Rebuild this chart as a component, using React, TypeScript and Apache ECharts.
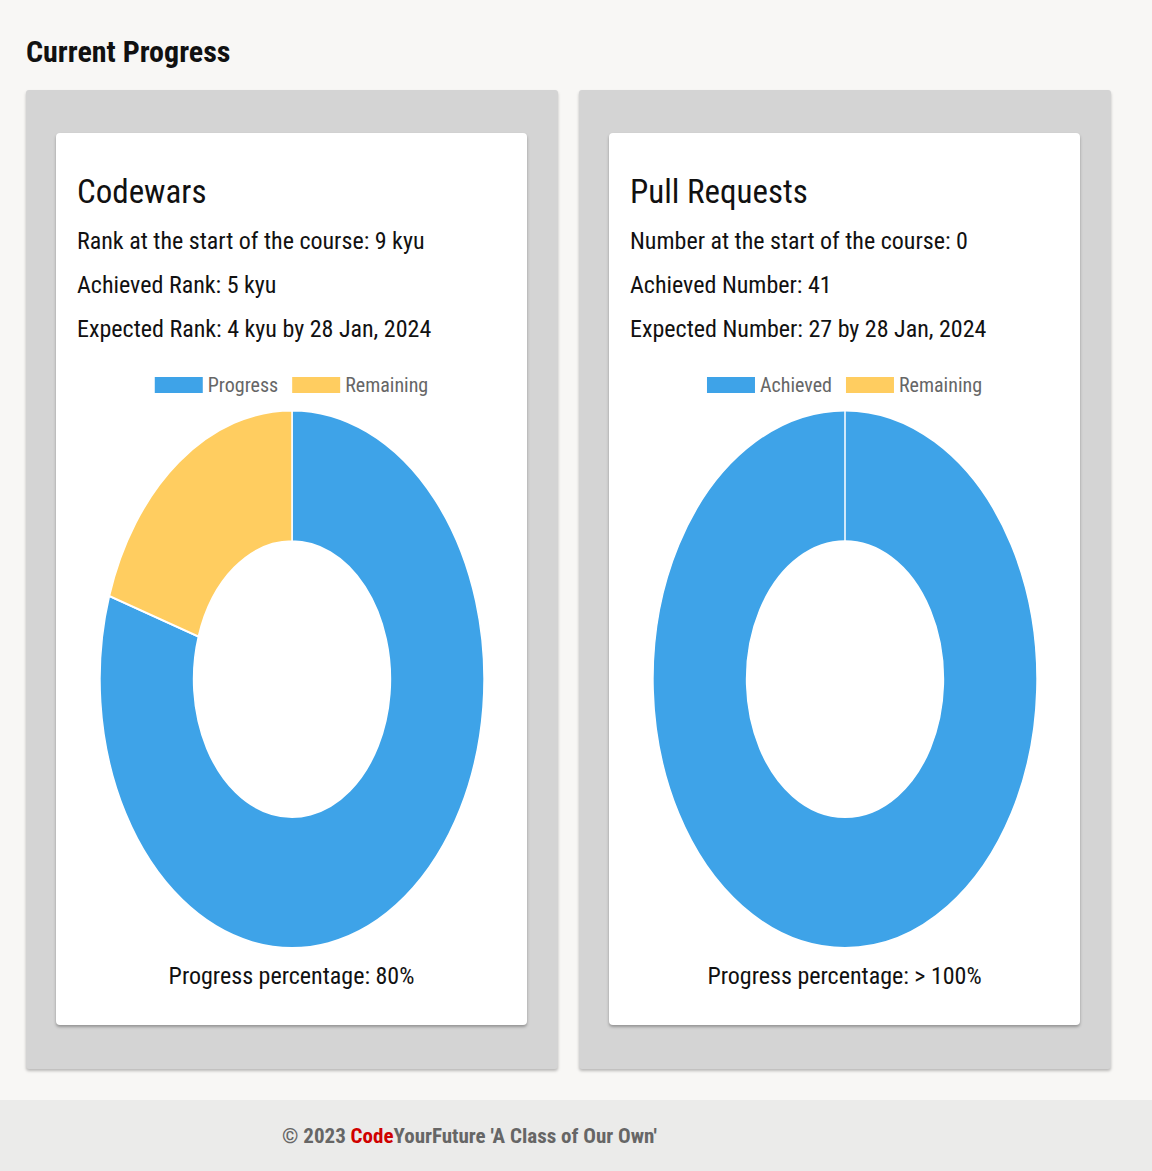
import React, { useEffect, useRef } from "react";
import * as echarts from "echarts";

const FONT = "'Liberation Sans Narrow', 'Roboto Condensed', Roboto, sans-serif";
const BLUE = "#3ea3e8";
const YELLOW = "#ffcd60";

const codewarsLabels = ["Progress", "Remaining"];
const codewarsValues = [80, 20];
const prLabels = ["Achieved", "Remaining"];
const prValues = [41, 0];

const cards = [
  {
    title: "Codewars",
    lines: ["Rank at the start of the course: 9 kyu", "Achieved Rank: 5 kyu", "Expected Rank: 4 kyu by 28 Jan, 2024"],
    labels: codewarsLabels,
    values: codewarsValues,
    footer: "Progress percentage: 80%",
    left: 26,
  },
  {
    title: "Pull Requests",
    lines: ["Number at the start of the course: 0", "Achieved Number: 41", "Expected Number: 27 by 28 Jan, 2024"],
    labels: prLabels,
    values: prValues,
    footer: "Progress percentage: > 100%",
    left: 579,
  },
];

function Legend({ labels }: { labels: string[] }) {
  const ref = useRef<HTMLDivElement>(null);
  useEffect(() => {
    const c = echarts.init(ref.current!, null, { renderer: "svg" });
    c.setOption({
      animation: false,
      color: [BLUE, YELLOW],
      legend: {
        top: 6,
        left: "center",
        itemWidth: 48,
        itemHeight: 16,
        itemGap: 14,
        icon: "rect",
        textStyle: { color: "#666", fontSize: 20, fontFamily: FONT },
        data: labels,
      },
      series: [{ type: "pie", radius: [0, 0], data: labels.map((n) => ({ name: n, value: 1 })), label: { show: false } }],
    });
    return () => c.dispose();
  }, []);
  return <div ref={ref} style={{ position: "absolute", left: 0, top: 231, width: 471, height: 34 }} />;
}

function Donut({ labels, values }: { labels: string[]; values: number[] }) {
  const ref = useRef<HTMLDivElement>(null);
  useEffect(() => {
    const c = echarts.init(ref.current!, null, { renderer: "svg" });
    c.setOption({
      animation: false,
      color: [BLUE, YELLOW],
      series: [
        {
          type: "pie",
          radius: ["51%", "99.5%"],
          center: ["50%", "50%"],
          startAngle: 90,
          clockwise: true,
          label: { show: false },
          labelLine: { show: false },
          emphasis: { disabled: true },
          itemStyle: { borderColor: "#fff", borderWidth: 1.5 },
          data: labels.map((n, i) => ({ name: n, value: values[i] })),
        },
      ],
    });
    return () => c.dispose();
  }, []);
  return (
    <div
      ref={ref}
      style={{
        position: "absolute",
        left: 43,
        top: 276,
        width: 386,
        height: 386,
        transform: "scaleY(1.4)",
        transformOrigin: "top center",
      }}
    />
  );
}

export default function App() {
  return (
    <div style={{ position: "absolute", left: 0, top: 0, width: 1152, height: 1171, background: "#f8f7f5", fontFamily: FONT, color: "#111", overflow: "hidden" }}>
      <div style={{ position: "absolute", left: 26, top: 34, fontSize: 30, fontWeight: "bold" }}>Current Progress</div>
      {cards.map((c, k) => (
        <div key={k} style={{ position: "absolute", left: c.left, top: 90, width: 532, height: 979, background: "#d4d4d4", borderRadius: 3, boxShadow: "0 2px 3px rgba(0,0,0,0.25)" }}>
          <div style={{ position: "absolute", left: 30, top: 43, width: 471, height: 892, background: "#fff", borderRadius: 4, boxShadow: "0 2px 3px rgba(0,0,0,0.3)" }}>
            <div style={{ position: "absolute", left: 21, top: 39, fontSize: 33 }}>{c.title}</div>
            {c.lines.map((l, i) => (
              <div key={i} style={{ position: "absolute", left: 21, top: 94 + i * 44, fontSize: 24 }}>{l}</div>
            ))}
            <Legend labels={c.labels} />
            <Donut labels={c.labels} values={c.values} />
            <div style={{ position: "absolute", left: 0, width: 471, top: 829, textAlign: "center", fontSize: 24 }}>{c.footer}</div>
          </div>
        </div>
      ))}
      <div style={{ position: "absolute", left: 0, top: 1100, width: 1152, height: 71, background: "#ebebea" }}>
        <div style={{ position: "absolute", left: 282, top: 24, fontSize: 21, fontWeight: "bold", color: "#666" }}>
          © 2023 <span style={{ color: "#d00000" }}>Code</span>YourFuture 'A Class of Our Own'
        </div>
      </div>
    </div>
  );
}
